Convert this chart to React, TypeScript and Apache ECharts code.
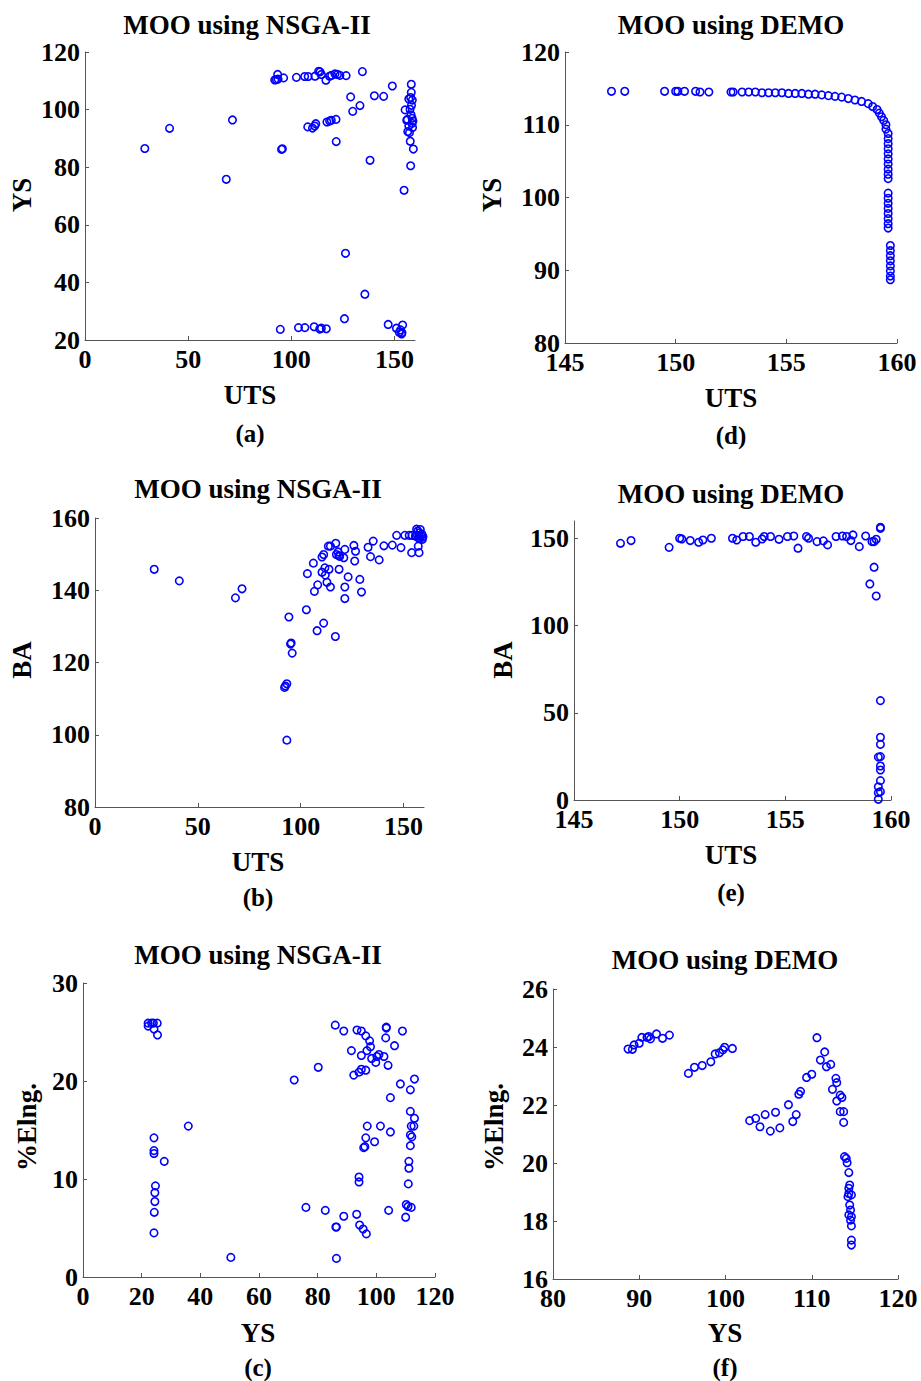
import React, { useEffect, useRef } from "react";
import * as echarts from "echarts";

// ---------- data ----------
// (a) NSGA-II: UTS vs YS
const nsgaUtsYs: [number, number][] = [
  [29, 86.5], [41, 93.5], [68.5, 75.8], [71.5, 96.4],
  [92, 110.3], [92.8, 110.4], [93.4, 112.2], [93.6, 110.6], [96.3, 111.0], [95.3, 86.2], [95.7, 86.4], [94.7, 23.7],
  [102.5, 111.2], [106.5, 111.5], [108.2, 111.5], [111.5, 111.6], [113.3, 113.3], [114, 113.1], [114.6, 112.2],
  [116.8, 110.2], [118.6, 111.6], [119.6, 111.9], [121.2, 112.4], [122.4, 112.2], [123.6, 111.9], [126.6, 111.8], [134.5, 113.2],
  [108, 94], [110.3, 93.6], [111.4, 94.3], [111.9, 95.1], [117.3, 95.7], [118.6, 96], [119.4, 96.3], [121.7, 96.6], [121.8, 88.9],
  [128.8, 104.4], [129.8, 99.4], [133.3, 101.4], [140.3, 104.8], [144.8, 104.6], [149, 108.2],
  [138.2, 82.4], [126.3, 50.1], [135.7, 35.9], [125.8, 27.4],
  [103.5, 24.3], [106.6, 24.3], [111.1, 24.6], [113.8, 23.8], [114.6, 24.1], [117, 23.9],
  [147, 25.4], [151, 24.1], [152.4, 22.7], [153.5, 22.1], [153, 23.5], [154, 25.2], [153.7, 22.5],
  [158.2, 108.8], [158.2, 106], [157, 103.7], [158.7, 103.3], [157.9, 104.2], [155.2, 99.9], [157.6, 100.1],
  [156.3, 96.6], [158.6, 97], [157, 94.3], [158.6, 95.2], [157.3, 92], [157.7, 89], [159.2, 86.3], [157.9, 80.5],
  [154.7, 72], [156, 96.3], [158.1, 98.2], [158.8, 93.8], [156.5, 92.4], [158.3, 101.5], [159, 96],
];

// (b) NSGA-II: UTS vs BA
const nsgaUtsBa: [number, number][] = [
  [28.8, 145.8], [41, 142.6], [68.3, 137.9], [71.5, 140.4], [94.3, 132.6], [95.4, 125.4], [95.1, 125.1], [95.9, 122.6],
  [93.3, 114.1], [92.2, 113.1], [92.6, 113.5], [93.3, 98.5], [102.8, 134.6], [108, 128.8], [111.2, 130.9], [116.9, 127.2],
  [106.7, 139.7], [108.3, 141.5], [112.8, 142.2], [114.5, 140.9], [103.3, 144.6], [106.2, 147.5], [110.4, 145.0],
  [112, 144.2], [111.8, 146.2], [113.8, 145.8], [118.7, 145.8], [110.4, 149.2], [111.2, 149.9], [113.5, 152.2],
  [114.5, 152.2], [117.1, 153], [117.4, 149.9], [118.2, 150.6], [119, 149.4], [121, 149], [121.5, 151.3], [118.6, 149.6],
  [121.5, 140.9], [121.5, 137.7], [123.1, 143.7], [125.9, 152.4], [126.7, 150.8], [126.3, 148.1], [128.8, 143],
  [129.6, 139.5], [132.8, 151.9], [135.3, 153.6], [134, 149.3], [138.2, 148.4], [140.5, 152.3], [144.6, 152.5],
  [146.7, 155.2], [148.8, 151.8], [150.7, 155.2], [152.8, 155.2], [154, 150.4], [157.6, 150.4], [157.2, 152.2],
  [156.4, 156.9], [157.8, 155.9], [158.6, 155], [157.2, 154.5], [159.2, 154.1], [155.8, 155], [154.2, 155.2],
  [157, 156.4], [158.2, 156.8], [159, 155.5], [156.8, 155.2], [158, 154.3], [159.5, 154.8],
];

// (c) NSGA-II: YS vs %Elng.
const nsgaYsElng: [number, number][] = [
  [22.2, 25.9], [22.2, 25.6], [23.4, 25.9], [24, 25.9], [25.3, 25.9], [24.2, 25.3], [25.4, 24.7],
  [24.2, 14.2], [24.2, 12.9], [24.2, 12.6], [27.7, 11.8], [24.7, 9.3], [24.5, 8.6], [24.5, 7.7], [24.3, 6.6], [24.2, 4.5],
  [35.9, 15.4], [50.4, 2], [72, 20.1], [80.2, 21.4], [76, 7.1], [82.6, 6.8],
  [86, 25.7], [88.9, 25.1], [91.5, 23.1], [93.4, 25.2], [94.9, 25.1], [96.4, 24.6], [97.7, 24.1], [98, 23.5],
  [94.9, 22.6], [96.8, 23.1], [98.4, 22.3], [100.2, 22.5], [99.8, 21.9], [100.9, 22.7], [102.6, 22.5], [104, 21.6],
  [103.4, 25.5], [103.4, 25.4], [103.2, 24.4], [106.2, 23.6], [108.9, 25.1],
  [92.3, 20.6], [94.1, 20.9], [94.9, 21.2], [96.4, 21.1],
  [108.2, 19.7], [113, 20.2], [111.6, 19.1], [104.8, 18.3],
  [111.6, 16.9], [113, 16.2], [111.9, 15.4], [112.8, 15.4], [111.6, 14.5], [112.1, 14.3], [111.6, 13.4],
  [96.9, 15.4], [101.4, 15.4], [96.4, 14.2], [99.4, 13.8], [95.7, 13.2], [96.1, 13.3], [104.8, 14.8],
  [111.1, 11.8], [111.1, 11.1], [94.1, 10.2], [94.1, 9.7], [110.9, 9.5],
  [110.2, 7.4], [110.8, 7.2], [111.9, 7.1], [110, 6.1], [104.2, 6.8], [88.9, 6.2], [93.3, 6.4],
  [86.2, 5.1], [86.4, 5.1], [94.3, 5.3], [95.5, 4.9], [96.6, 4.4], [86.4, 1.9],
];

// (d) DEMO: UTS vs YS
const demoUtsYs: [number, number][] = [
  [147.1, 114.6], [147.7, 114.6], [149.5, 114.6], [150.0, 114.6], [150.1, 114.6], [150.4, 114.6], [150.9, 114.6],
  [151.1, 114.5], [151.5, 114.5], [152.5, 114.5], [152.6, 114.5], [153.0, 114.5], [153.3, 114.5], [153.6, 114.5],
  [153.9, 114.4], [154.2, 114.4], [154.5, 114.4], [154.8, 114.4], [155.1, 114.3], [155.4, 114.3], [155.7, 114.3],
  [156.0, 114.2], [156.3, 114.2], [156.6, 114.1], [156.9, 114.0], [157.2, 113.9], [157.5, 113.8], [157.8, 113.6],
  [158.1, 113.4], [158.4, 113.2], [158.7, 112.9], [158.9, 112.5], [159.1, 112.1], [159.2, 111.6], [159.3, 111.1],
  [159.4, 110.6], [159.5, 110.0], [159.5, 109.4], [159.6, 108.8], [159.6, 108.1], [159.6, 107.4], [159.6, 106.7],
  [159.6, 106.0], [159.6, 105.3], [159.6, 104.6], [159.6, 103.9], [159.6, 103.2], [159.6, 102.6],
  [159.6, 100.6], [159.6, 99.9], [159.6, 99.2], [159.6, 98.5], [159.6, 97.8], [159.6, 97.1], [159.6, 96.4], [159.6, 95.8],
  [159.7, 93.4], [159.7, 92.7], [159.7, 92.0], [159.7, 91.3], [159.7, 90.6], [159.7, 89.9], [159.7, 89.2], [159.7, 88.7],
];

// (e) DEMO: UTS vs BA
const demoUtsBa: [number, number][] = [
  [147.2, 147.2], [147.7, 148.8], [149.5, 144.9], [150, 150.1], [150.1, 149.7], [150.5, 148.8], [150.9, 147.8],
  [151.1, 149.1], [151.5, 150.1], [152.5, 150.1], [152.7, 149.1], [153, 151.1], [153.3, 151.1], [153.6, 147.8],
  [153.9, 149.7], [154, 151.1], [154.3, 151.1], [154.7, 149.5], [155.1, 151.1], [155.4, 151.4], [155.6, 144.4],
  [156, 151.1], [156.1, 150.1], [156.5, 148.2], [156.8, 148.6], [157, 146.3], [157.4, 151.1], [157.7, 151.4],
  [157.9, 151.1], [158.1, 148.8], [158.2, 152], [158.5, 145.3], [158.8, 151.4], [159.1, 148.2], [159.2, 148.2],
  [159.3, 149.5], [159.5, 155.8], [159.5, 156.4],
  [159.0, 123.9], [159.2, 133.5], [159.3, 117], [159.5, 57],
  [159.5, 36], [159.5, 31.9], [159.5, 24.9], [159.4, 24.6], [159.5, 19.5], [159.5, 17.2], [159.5, 11.1],
  [159.4, 7.6], [159.5, 4.8], [159.4, 4.2], [159.4, 0.4],
];

// (f) DEMO: YS vs %Elng.
const demoYsElng: [number, number][] = [
  [88.7, 23.93], [89.2, 23.92], [89.4, 24.07], [90, 24.13], [90.3, 24.33], [90.9, 24.33], [91.3, 24.28], [91.1, 24.36],
  [92, 24.45], [92.7, 24.3], [93.5, 24.41],
  [95.7, 23.09], [96.4, 23.3], [97.3, 23.36], [98.3, 23.49], [98.8, 23.76], [99.3, 23.8], [99.7, 23.9], [99.9, 23.99], [100.8, 23.95],
  [102.8, 21.46], [103.5, 21.54], [104, 21.25], [104.6, 21.67], [105.2, 21.1], [105.8, 21.75], [106.3, 21.21],
  [107.3, 22.01], [107.8, 21.43], [108.2, 21.67], [108.5, 22.37], [108.7, 22.47], [109.4, 22.95], [110, 23.06],
  [110.6, 24.32], [111.5, 23.83], [111, 23.55], [111.7, 23.32], [112.2, 23.4],
  [112.8, 22.92], [112.9, 22.77], [112.4, 22.54], [113.3, 22.34], [113.5, 22.26], [112.9, 22.14], [113.3, 21.77],
  [113.7, 21.77], [113.7, 21.4],
  [113.8, 20.22], [114, 20.16], [114.1, 20.01], [114.3, 19.67], [114.4, 19.24], [114.3, 19.13], [114.3, 18.95],
  [114.2, 18.84], [114.6, 18.9], [114.4, 18.55], [114.5, 18.38], [114.3, 18.21], [114.6, 18.15], [114.5, 18.03],
  [114.6, 17.83], [114.6, 17.34], [114.6, 17.17],
];

// tick values
const ticksUtsNsga = [0, 50, 100, 150];
const ticksUtsDemo = [145, 150, 155, 160];
const ticksYsNsga = [20, 40, 60, 80, 100, 120];
const ticksYsDemo = [80, 90, 100, 110, 120];
const ticksBaNsga = [80, 100, 120, 140, 160];
const ticksBaDemo = [0, 50, 100, 150];
const ticksYsAxisNsga = [0, 20, 40, 60, 80, 100, 120];
const ticksElngNsga = [0, 10, 20, 30];
const ticksYsAxisDemo = [80, 90, 100, 110, 120];
const ticksElngDemo = [16, 18, 20, 22, 24, 26];

const titleNsga = "MOO using NSGA-II";
const titleDemo = "MOO using DEMO";

const FONT = '"Liberation Serif", "DejaVu Serif", "Times New Roman", serif';

export default function App() {
  const ref = useRef<HTMLDivElement>(null);
  useEffect(() => {
    document.body.style.margin = "0";
    const chart = echarts.init(ref.current!, undefined, { renderer: "svg" });

    const panels = [
      { grid: { left: 85, top: 52, width: 330, height: 288 }, x: [0, 160, ticksUtsNsga], y: [20, 120, ticksYsNsga], data: nsgaUtsYs,
        title: [titleNsga, 247, 25], xName: ["UTS", 250, 395], yName: ["YS", 22, 195], cap: ["(a)", 250, 433] },
      { grid: { left: 95, top: 518, width: 329, height: 289 }, x: [0, 160, ticksUtsNsga], y: [80, 160, ticksBaNsga], data: nsgaUtsBa,
        title: [titleNsga, 258, 489], xName: ["UTS", 258, 862], yName: ["BA", 22, 660], cap: ["(b)", 258, 897] },
      { grid: { left: 83, top: 983, width: 352, height: 294 }, x: [0, 120, ticksYsAxisNsga], y: [0, 30, ticksElngNsga], data: nsgaYsElng,
        title: [titleNsga, 258, 955], xName: ["YS", 258, 1333], yName: ["%Elng.", 27, 1127], cap: ["(c)", 258, 1367] },
      { grid: { left: 565, top: 52, width: 332, height: 291 }, x: [145, 160, ticksUtsDemo], y: [80, 120, ticksYsDemo], data: demoUtsYs,
        title: [titleDemo, 731, 25], xName: ["UTS", 731, 398], yName: ["YS", 492, 195], cap: ["(d)", 731, 435] },
      { grid: { left: 574, top: 521, width: 317, height: 279 }, x: [145, 160, ticksUtsDemo], y: [0, 160, ticksBaDemo], data: demoUtsBa,
        title: [titleDemo, 731, 494], xName: ["UTS", 731, 855], yName: ["BA", 503, 660], cap: ["(e)", 731, 892] },
      { grid: { left: 553, top: 989, width: 345, height: 290 }, x: [80, 120, ticksYsAxisDemo], y: [16, 26, ticksElngDemo], data: demoYsElng,
        title: [titleDemo, 725, 960], xName: ["YS", 725, 1333], yName: ["%Elng.", 494, 1127], cap: ["(f)", 725, 1367] },
    ];

    const axisBase = (gi: number, min: number, max: number, ticks: number[], isX: boolean) => ({
      type: "value",
      gridIndex: gi,
      min,
      max,
      axisLine: { show: true, onZero: false, lineStyle: { color: "#555", width: 1 } },
      axisTick: { show: true, inside: true, length: 4, lineStyle: { color: "#555" }, customValues: ticks },
      axisLabel: { customValues: ticks, color: "#000", fontFamily: FONT, fontWeight: "bold", fontSize: 26, margin: isX ? 6 : 5 },
      splitLine: { show: false },
    });

    const txt = (t: any[], size: number, rot = 0) => ({
      type: "text",
      x: t[1],
      y: t[2],
      rotation: rot,
      style: {
        text: t[0],
        fill: "#000",
        fontFamily: FONT,
        fontWeight: "bold",
        fontSize: size,
        align: "center",
        verticalAlign: "middle",
      },
    });

    const graphics: any[] = [];
    panels.forEach((p) => {
      graphics.push(txt(p.title, 27));
      graphics.push(txt(p.xName, 27));
      graphics.push(txt(p.yName, 27, Math.PI / 2));
      graphics.push(txt(p.cap, 25));
    });

    chart.setOption({
      animation: false,
      backgroundColor: "#fff",
      grid: panels.map((p) => ({ ...p.grid, containLabel: false })),
      xAxis: panels.map((p, i) => axisBase(i, p.x[0] as number, p.x[1] as number, p.x[2] as number[], true)),
      yAxis: panels.map((p, i) => axisBase(i, p.y[0] as number, p.y[1] as number, p.y[2] as number[], false)),
      series: panels.map((p, i) => ({
        type: "scatter",
        xAxisIndex: i,
        yAxisIndex: i,
        data: p.data,
        symbol: "circle",
        symbolSize: 7.5,
        itemStyle: { color: "rgba(0,0,0,0)", borderColor: "#0000ff", borderWidth: 1.6, opacity: 1 },
      })),
      graphic: graphics,
    });
    return () => chart.dispose();
  }, []);
  return <div ref={ref} style={{ position: "absolute", left: 0, top: 0, width: 921, height: 1381 }} />;
}
